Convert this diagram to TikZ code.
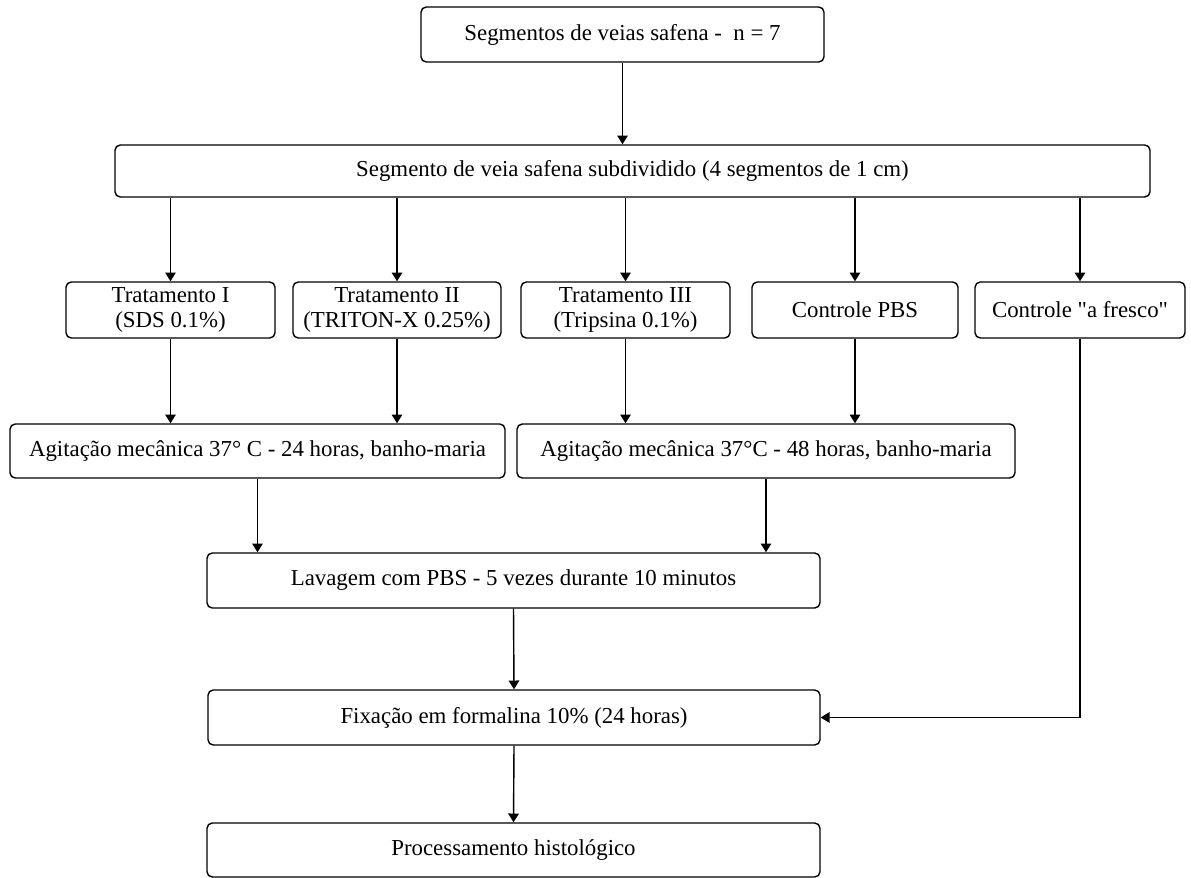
\documentclass[tikz,border=0pt]{standalone}
\usepackage{fontspec}
\setmainfont{Liberation Serif}
\usepackage{tikz}
\usetikzlibrary{arrows.meta,positioning,calc}
\tikzset{
  >={Triangle[width=6pt,length=5pt]},
  every picture/.append style={line width=0.8pt},
}

\begin{document}
\begin{tikzpicture}[
  font=\fontsize{13}{14.5}\selectfont,
  box/.style={rectangle, rounded corners=3pt, draw, align=center, inner sep=2pt},
  rowbox/.style={box, minimum height=1.12cm},
  arrow/.style={->, line width=0.8pt}
]
\useasboundingbox (0,0) rectangle (23.82,-17.56);

% --- Top: sample and subdivision ---
\node[box, minimum width=8.06cm, minimum height=1.10cm] (veias) at (12.45,-0.69) {Segmentos de veias safena -\ \ n = 7};
\node[box, minimum width=20.7cm, minimum height=1.04cm] (subdiv) at (12.65,-3.42) {Segmento de veia safena subdividido (4 segmentos de 1 cm)};

% --- Treatments and controls ---
\node[rowbox, minimum width=4.18cm] (trat1) at (3.41,-6.20) {Tratamento I\\(SDS 0.1\%)};
\node[rowbox, minimum width=4.16cm] (trat2) at (7.94,-6.20) {Tratamento II\\(TRITON-X 0.25\%)};
\node[rowbox, minimum width=4.18cm] (trat3) at (12.51,-6.20) {Tratamento III\\(Tripsina 0.1\%)};
\node[rowbox, minimum width=4.12cm] (ctrlpbs) at (17.10,-6.20) {Controle PBS};
\node[rowbox, minimum width=4.20cm] (fresco) at (21.60,-6.20) {Controle \textquotedbl a fresco\textquotedbl};

% --- Mechanical agitation ---
\node[box, minimum width=9.90cm, minimum height=1.08cm] (agit24) at (5.15,-9.02) {Agitação mecânica 37° C - 24 horas, banho-maria};
\node[box, minimum width=9.96cm, minimum height=1.08cm] (agit48) at (15.32,-9.02) {Agitação mecânica 37°C - 48 horas, banho-maria};

% --- Washing, fixation, processing ---
\node[box, minimum width=12.26cm, minimum height=1.10cm] (lavagem) at (10.27,-11.61) {Lavagem com PBS - 5 vezes durante 10 minutos};
\node[box, minimum width=12.24cm, minimum height=1.10cm] (fixacao) at (10.28,-14.35) {Fixação em formalina 10\% (24 horas)};
\node[box, minimum width=12.26cm, minimum height=1.08cm] (process) at (10.27,-17.00) {Processamento histológico};

% --- Arrows ---
\draw[arrow] (veias.south) -- (veias.south |- subdiv.north);
\foreach \n in {trat1,trat2,trat3,ctrlpbs,fresco}
  \draw[arrow] (\n.north |- subdiv.south) -- (\n.north);
\draw[arrow] (trat1.south) -- (trat1.south |- agit24.north);
\draw[arrow] (trat2.south) -- (trat2.south |- agit24.north);
\draw[arrow] (trat3.south) -- (trat3.south |- agit48.north);
\draw[arrow] (ctrlpbs.south) -- (ctrlpbs.south |- agit48.north);
\draw[arrow] (agit24.south) -- (agit24.south |- lavagem.north);
\draw[arrow] (agit48.south) -- (agit48.south |- lavagem.north);
\draw[arrow] (lavagem.south) -- (fixacao.north);
\draw[arrow] (fresco.south) |- (fixacao.east);
\draw[arrow] (fixacao.south) -- (process.north);

\end{tikzpicture}
\end{document}
